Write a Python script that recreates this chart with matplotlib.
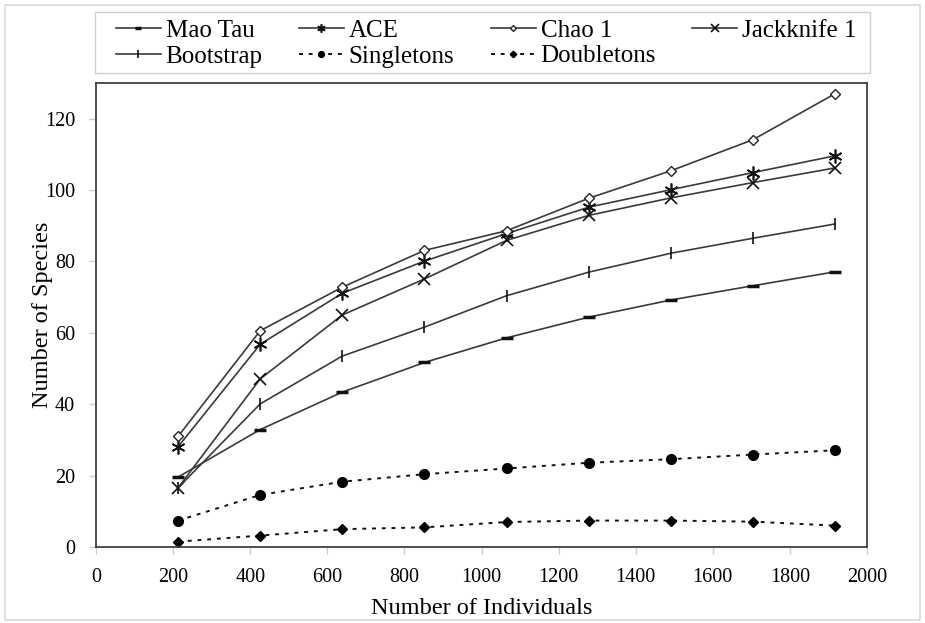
import matplotlib
matplotlib.use("Agg")
import matplotlib.pyplot as plt
from matplotlib.patches import Rectangle

plt.rcParams['font.family'] = ['Liberation Serif', 'DejaVu Serif']

individuals = [213, 426, 639, 852, 1065, 1278, 1491, 1704, 1917]
mao_tau = [19.6, 32.9, 43.4, 51.7, 58.6, 64.4, 69.2, 73.2, 77.1]
ace = [28.1, 56.8, 71.1, 80.1, 87.8, 95.2, 100.1, 104.9, 109.6]
chao1 = [31.0, 60.6, 72.8, 83.1, 88.6, 97.7, 105.4, 114.1, 127.0]
jackknife1 = [16.6, 47.1, 65.0, 75.1, 85.9, 92.9, 97.8, 102.1, 106.2]
bootstrap = [16.6, 40.1, 53.5, 61.6, 70.4, 77.0, 82.3, 86.5, 90.5]
singletons = [7.4, 14.6, 18.3, 20.4, 22.0, 23.6, 24.6, 25.9, 27.1]
doubletons = [1.5, 3.2, 5.0, 5.5, 7.0, 7.4, 7.4, 7.1, 6.0]

xticks = list(range(0, 2001, 200))
yticks = list(range(0, 121, 20))

fig = plt.figure(figsize=(9.25, 6.23), dpi=100)
fig.patches.append(Rectangle((5/925, 3/623), 915/925, 615/623, transform=fig.transFigure,
                             fill=False, edgecolor='#d9d9d9', linewidth=1.2))
# legend box
fig.patches.append(Rectangle((95/925, 1-73/623), 775/925, 61/623, transform=fig.transFigure,
                             fill=False, edgecolor='#d0d0d0', linewidth=1.0))
ax = fig.add_axes([96/925, 1-547/623, 771/925, 464/623])

lc = '#3a3a3a'
h_mao, = ax.plot(individuals, mao_tau, color=lc, lw=1.2, marker='_', ms=8, mew=2.5, mec='#111', label='Mao Tau')
h_ace, = ax.plot(individuals, ace, color=lc, lw=1.2, marker=(6, 2, 0), ms=10, mew=1.2, mec='#111', label='ACE')
h_chao, = ax.plot(individuals, chao1, color=lc, lw=1.2, marker='D', ms=5, mew=1.0, mfc='white', mec='#222', label='Chao 1')
h_jack, = ax.plot(individuals, jackknife1, color=lc, lw=1.2, marker='x', ms=9, mew=1.2, mec='#111', label='Jackknife 1')
h_boot, = ax.plot(individuals, bootstrap, color=lc, lw=1.2, marker='|', ms=9, mew=1.2, mec='#111', label='Bootstrap')
h_single, = ax.plot(individuals, singletons, color='#111', lw=1.4, ls=(0, (2, 3)), marker='o', ms=7, mfc='black', mec='black', label='Singletons')
h_double, = ax.plot(individuals, doubletons, color='#111', lw=1.4, ls=(0, (2, 3)), marker='D', ms=5.5, mfc='black', mec='black', label='Doubletons')

ax.set_xlim(0, 2000)
ax.set_ylim(0, 130)
ax.set_xticks(xticks)
ax.set_yticks(yticks)
ax.tick_params(axis='both', labelsize=14.5, direction='out', length=5, width=1, color='#cccccc', pad=10)
for s in ax.spines.values():
    s.set_color('#404040')
    s.set_linewidth(1.3)
ax.set_xlabel('Number of Individuals', fontsize=17.5, labelpad=8)
ax.set_ylabel('Number of Species', fontsize=17.5, labelpad=-6)

handles = [h_mao, h_boot, h_ace, h_single, h_chao, h_double, h_jack]
leg = fig.legend(handles=handles, labels=[h.get_label() for h in handles], ncol=4,
                 loc='upper left', bbox_to_anchor=(108/925, 1-12/623),
                 fontsize=18, frameon=False, markerscale=0.6,
                 handlelength=1.8, handletextpad=0.2,
                 columnspacing=1.45, labelspacing=0.12, borderpad=0.3, borderaxespad=0)

fig.savefig('out.png', dpi=100)
